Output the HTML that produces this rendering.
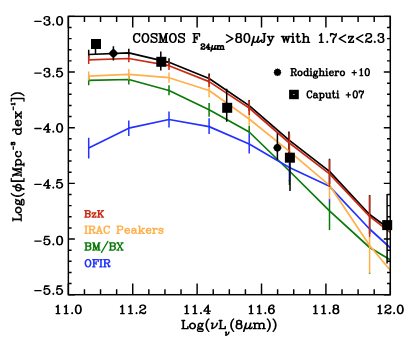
<!DOCTYPE html>
<html><head><meta charset="utf-8"><title>plot</title>
<style>html,body{margin:0;padding:0;background:#fff;font-family:"Liberation Sans",sans-serif;}svg{display:block}</style>
</head><body>
<svg width="416" height="345" viewBox="0 0 416 345">
<rect width="416" height="345" fill="#fff"/>
<defs><clipPath id="c"><rect x="68.35" y="16.35" width="321.95" height="278.35"/></clipPath></defs>
<path d="M288.95 131.5V153" fill="none" stroke="#000" stroke-width="1.50"/>
<g clip-path="url(#c)" fill="none" stroke-width="1.70" stroke-linejoin="round" stroke-linecap="butt">
<polyline points="88.7,54.5 128.8,52.8 169.0,62.3 209.1,78.5 249.2,105.6 289.4,140.3 329.5,171.4 369.6,214.5 409.8,243.9" stroke="#000000"/>
<path d="M88.7 49.8V58.6M128.8 48.8V56.6M169.0 58.3V66.3M209.1 73.5V83.5M249.2 100.0V111.2M329.5 158.8V184.0M369.6 195.0V234.0" stroke="#000000" stroke-width="1.50"/>
<polyline points="88.7,80.4 128.8,79.5 169.0,90.5 209.1,109.7 249.2,132.0 289.4,171.0 329.5,210.8 369.6,247.5 409.8,271.6" stroke="#0a7a0a"/>
<path d="M88.7 75.6V85.2M128.8 76.0V84.6M169.0 85.2V95.3M209.1 102.9V116.8M249.2 126.0V133.4M289.4 180.0V185.1M329.5 202.0V230.0M369.6 272.6V273.8" stroke="#0a7a0a" stroke-width="1.50"/>
<polyline points="88.7,148.1 128.8,128.2 169.0,119.5 209.1,126.6 249.2,144.0 289.4,167.5 329.5,186.3 369.6,229.0 409.8,265.6" stroke="#2233ff"/>
<path d="M88.7 137.7V158.4M128.8 120.4V136.0M169.0 111.5V127.6M209.1 118.2V134.0M249.2 133.4V153.6M289.4 163.0V181.2M329.5 198.5V202.3" stroke="#2233ff" stroke-width="1.50"/>
<polyline points="88.7,76.1 128.8,74.4 169.0,77.7 209.1,90.5 249.2,119.0 289.4,151.3 329.5,185.3 369.6,245.5 409.8,293.7" stroke="#ffb04a"/>
<path d="M88.7 71.4V80.6M128.8 69.0V79.6M169.0 72.6V82.7M209.1 83.5V97.5M249.2 111.3V125.9M329.5 186.0V199.3M369.6 236.0V273.2" stroke="#ffb04a" stroke-width="1.50"/>
<polyline points="88.7,59.8 128.8,58.5 169.0,65.7 209.1,81.6 249.2,108.0 289.4,143.0 329.5,173.8 369.6,216.3 409.8,247.6" stroke="#c82a14"/>
<path d="M88.7 55.6V64.0M128.8 54.7V62.3M169.0 61.7V70.1M209.1 76.1V87.0M249.2 100.5V115.0M289.4 133.8V154.0M329.5 159.4V187.0M369.6 195.5V236.8" stroke="#c82a14" stroke-width="1.50"/>
</g>
<path d="M95.5 44.0V54.3M160.8 51.6V70.6M226.7 88.8V121.7M290.0 155.0V191.1M387.1 193.9V263.5M113.4 46.2V60.6M277.4 133.2V159.8" fill="none" stroke="#000" stroke-width="1.50"/>
<g fill="#000">
<rect x="91.0" y="39.0" width="10" height="10"/>
<rect x="156.3" y="56.8" width="10" height="10"/>
<rect x="222.2" y="102.8" width="10" height="10"/>
<rect x="284.9" y="152.7" width="10" height="10"/>
<rect x="382.2" y="220.1" width="10" height="10"/>
<polygon points="108.50,53.40 110.80,50.80 113.40,48.50 116.00,50.80 118.30,53.40 116.00,56.00 113.40,58.30 110.80,56.00"/>
<polygon points="273.20,147.70 274.60,144.90 277.40,143.50 280.20,144.90 281.60,147.70 280.20,150.50 277.40,151.90 274.60,150.50"/>
</g>
<g stroke="#000" stroke-width="1.45" fill="none" stroke-linecap="butt">
<path d="M68.35 294.70v-11.10M68.35 16.35v11.10M84.45 294.70v-5.55M84.45 16.35v5.55M100.54 294.70v-5.55M100.54 16.35v5.55M116.64 294.70v-5.55M116.64 16.35v5.55M132.74 294.70v-11.10M132.74 16.35v11.10M148.84 294.70v-5.55M148.84 16.35v5.55M164.94 294.70v-5.55M164.94 16.35v5.55M181.03 294.70v-5.55M181.03 16.35v5.55M197.13 294.70v-11.10M197.13 16.35v11.10M213.23 294.70v-5.55M213.23 16.35v5.55M229.33 294.70v-5.55M229.33 16.35v5.55M245.42 294.70v-5.55M245.42 16.35v5.55M261.52 294.70v-11.10M261.52 16.35v11.10M277.62 294.70v-5.55M277.62 16.35v5.55M293.71 294.70v-5.55M293.71 16.35v5.55M309.81 294.70v-5.55M309.81 16.35v5.55M325.91 294.70v-11.10M325.91 16.35v11.10M342.01 294.70v-5.55M342.01 16.35v5.55M358.11 294.70v-5.55M358.11 16.35v5.55M374.20 294.70v-5.55M374.20 16.35v5.55M390.30 294.70v-11.10M390.30 16.35v11.10M68.35 16.35h6.50M390.30 16.35h-6.50M68.35 27.48h3.25M390.30 27.48h-3.25M68.35 38.62h3.25M390.30 38.62h-3.25M68.35 49.75h3.25M390.30 49.75h-3.25M68.35 60.89h3.25M390.30 60.89h-3.25M68.35 72.02h6.50M390.30 72.02h-6.50M68.35 83.15h3.25M390.30 83.15h-3.25M68.35 94.29h3.25M390.30 94.29h-3.25M68.35 105.42h3.25M390.30 105.42h-3.25M68.35 116.56h3.25M390.30 116.56h-3.25M68.35 127.69h6.50M390.30 127.69h-6.50M68.35 138.82h3.25M390.30 138.82h-3.25M68.35 149.96h3.25M390.30 149.96h-3.25M68.35 161.09h3.25M390.30 161.09h-3.25M68.35 172.23h3.25M390.30 172.23h-3.25M68.35 183.36h6.50M390.30 183.36h-6.50M68.35 194.49h3.25M390.30 194.49h-3.25M68.35 205.63h3.25M390.30 205.63h-3.25M68.35 216.76h3.25M390.30 216.76h-3.25M68.35 227.90h3.25M390.30 227.90h-3.25M68.35 239.03h6.50M390.30 239.03h-6.50M68.35 250.16h3.25M390.30 250.16h-3.25M68.35 261.30h3.25M390.30 261.30h-3.25M68.35 272.43h3.25M390.30 272.43h-3.25M68.35 283.57h3.25M390.30 283.57h-3.25M68.35 294.70h6.50M390.30 294.70h-6.50"/>
<rect x="68.35" y="16.35" width="321.95" height="278.35"/>
</g>
<path d="M56.16 306.80 L56.98 306.40 L58.21 305.20 L58.21 313.60 M57.80 305.60 L57.80 313.60 M56.16 313.60 L59.85 313.60 M64.36 306.80 L65.18 306.40 L66.41 305.20 L66.41 313.60 M66.00 305.60 L66.00 313.60 M64.36 313.60 L68.05 313.60 M72.15 312.80 L71.74 313.20 L72.15 313.60 L72.56 313.20 L72.15 312.80 M77.89 305.20 L76.66 305.60 L75.84 306.80 L75.43 308.80 L75.43 310.00 L75.84 312.00 L76.66 313.20 L77.89 313.60 L78.71 313.60 L79.94 313.20 L80.76 312.00 L81.17 310.00 L81.17 308.80 L80.76 306.80 L79.94 305.60 L78.71 305.20 L77.89 305.20 M77.89 305.20 L77.07 305.60 L76.66 306.00 L76.25 306.80 L75.84 308.80 L75.84 310.00 L76.25 312.00 L76.66 312.80 L77.07 313.20 L77.89 313.60 M78.71 313.60 L79.53 313.20 L79.94 312.80 L80.35 312.00 L80.76 310.00 L80.76 308.80 L80.35 306.80 L79.94 306.00 L79.53 305.60 L78.71 305.20" fill="none" stroke="#000" stroke-width="1.30" stroke-linecap="round" stroke-linejoin="round"/>
<path d="M120.55 306.80 L121.37 306.40 L122.60 305.20 L122.60 313.60 M122.19 305.60 L122.19 313.60 M120.55 313.60 L124.24 313.60 M128.75 306.80 L129.57 306.40 L130.80 305.20 L130.80 313.60 M130.39 305.60 L130.39 313.60 M128.75 313.60 L132.44 313.60 M136.54 312.80 L136.13 313.20 L136.54 313.60 L136.95 313.20 L136.54 312.80 M140.23 306.80 L140.64 307.20 L140.23 307.60 L139.82 307.20 L139.82 306.80 L140.23 306.00 L140.64 305.60 L141.87 305.20 L143.51 305.20 L144.74 305.60 L145.15 306.00 L145.56 306.80 L145.56 307.60 L145.15 308.40 L143.92 309.20 L141.87 310.00 L141.05 310.40 L140.23 311.20 L139.82 312.40 L139.82 313.60 M143.51 305.20 L144.33 305.60 L144.74 306.00 L145.15 306.80 L145.15 307.60 L144.74 308.40 L143.51 309.20 L141.87 310.00 M139.82 312.80 L140.23 312.40 L141.05 312.40 L143.10 313.20 L144.33 313.20 L145.15 312.80 L145.56 312.40 M141.05 312.40 L143.10 313.60 L144.74 313.60 L145.15 313.20 L145.56 312.40 L145.56 311.60" fill="none" stroke="#000" stroke-width="1.30" stroke-linecap="round" stroke-linejoin="round"/>
<path d="M184.94 306.80 L185.76 306.40 L186.99 305.20 L186.99 313.60 M186.58 305.60 L186.58 313.60 M184.94 313.60 L188.63 313.60 M193.14 306.80 L193.96 306.40 L195.19 305.20 L195.19 313.60 M194.78 305.60 L194.78 313.60 M193.14 313.60 L196.83 313.60 M200.93 312.80 L200.52 313.20 L200.93 313.60 L201.34 313.20 L200.93 312.80 M207.90 306.00 L207.90 313.60 M208.31 305.20 L208.31 313.60 M208.31 305.20 L203.80 311.20 L210.36 311.20 M206.67 313.60 L209.54 313.60" fill="none" stroke="#000" stroke-width="1.30" stroke-linecap="round" stroke-linejoin="round"/>
<path d="M249.33 306.80 L250.15 306.40 L251.38 305.20 L251.38 313.60 M250.97 305.60 L250.97 313.60 M249.33 313.60 L253.02 313.60 M257.53 306.80 L258.35 306.40 L259.58 305.20 L259.58 313.60 M259.17 305.60 L259.17 313.60 M257.53 313.60 L261.22 313.60 M265.32 312.80 L264.91 313.20 L265.32 313.60 L265.73 313.20 L265.32 312.80 M273.52 306.40 L273.11 306.80 L273.52 307.20 L273.93 306.80 L273.93 306.40 L273.52 305.60 L272.70 305.20 L271.47 305.20 L270.24 305.60 L269.42 306.40 L269.01 307.20 L268.60 308.80 L268.60 311.20 L269.01 312.40 L269.83 313.20 L271.06 313.60 L271.88 313.60 L273.11 313.20 L273.93 312.40 L274.34 311.20 L274.34 310.80 L273.93 309.60 L273.11 308.80 L271.88 308.40 L271.47 308.40 L270.24 308.80 L269.42 309.60 L269.01 310.80 M271.47 305.20 L270.65 305.60 L269.83 306.40 L269.42 307.20 L269.01 308.80 L269.01 311.20 L269.42 312.40 L270.24 313.20 L271.06 313.60 M271.88 313.60 L272.70 313.20 L273.52 312.40 L273.93 311.20 L273.93 310.80 L273.52 309.60 L272.70 308.80 L271.88 308.40" fill="none" stroke="#000" stroke-width="1.30" stroke-linecap="round" stroke-linejoin="round"/>
<path d="M313.72 306.80 L314.54 306.40 L315.77 305.20 L315.77 313.60 M315.36 305.60 L315.36 313.60 M313.72 313.60 L317.41 313.60 M321.92 306.80 L322.74 306.40 L323.97 305.20 L323.97 313.60 M323.56 305.60 L323.56 313.60 M321.92 313.60 L325.61 313.60 M329.71 312.80 L329.30 313.20 L329.71 313.60 L330.12 313.20 L329.71 312.80 M335.04 305.20 L333.81 305.60 L333.40 306.40 L333.40 307.60 L333.81 308.40 L335.04 308.80 L336.68 308.80 L337.91 308.40 L338.32 307.60 L338.32 306.40 L337.91 305.60 L336.68 305.20 L335.04 305.20 M335.04 305.20 L334.22 305.60 L333.81 306.40 L333.81 307.60 L334.22 308.40 L335.04 308.80 M336.68 308.80 L337.50 308.40 L337.91 307.60 L337.91 306.40 L337.50 305.60 L336.68 305.20 M335.04 308.80 L333.81 309.20 L333.40 309.60 L332.99 310.40 L332.99 312.00 L333.40 312.80 L333.81 313.20 L335.04 313.60 L336.68 313.60 L337.91 313.20 L338.32 312.80 L338.73 312.00 L338.73 310.40 L338.32 309.60 L337.91 309.20 L336.68 308.80 M335.04 308.80 L334.22 309.20 L333.81 309.60 L333.40 310.40 L333.40 312.00 L333.81 312.80 L334.22 313.20 L335.04 313.60 M336.68 313.60 L337.50 313.20 L337.91 312.80 L338.32 312.00 L338.32 310.40 L337.91 309.60 L337.50 309.20 L336.68 308.80" fill="none" stroke="#000" stroke-width="1.30" stroke-linecap="round" stroke-linejoin="round"/>
<path d="M378.11 306.80 L378.93 306.40 L380.16 305.20 L380.16 313.60 M379.75 305.60 L379.75 313.60 M378.11 313.60 L381.80 313.60 M385.49 306.80 L385.90 307.20 L385.49 307.60 L385.08 307.20 L385.08 306.80 L385.49 306.00 L385.90 305.60 L387.13 305.20 L388.77 305.20 L390.00 305.60 L390.41 306.00 L390.82 306.80 L390.82 307.60 L390.41 308.40 L389.18 309.20 L387.13 310.00 L386.31 310.40 L385.49 311.20 L385.08 312.40 L385.08 313.60 M388.77 305.20 L389.59 305.60 L390.00 306.00 L390.41 306.80 L390.41 307.60 L390.00 308.40 L388.77 309.20 L387.13 310.00 M385.08 312.80 L385.49 312.40 L386.31 312.40 L388.36 313.20 L389.59 313.20 L390.41 312.80 L390.82 312.40 M386.31 312.40 L388.36 313.60 L390.00 313.60 L390.41 313.20 L390.82 312.40 L390.82 311.60 M394.10 312.80 L393.69 313.20 L394.10 313.60 L394.51 313.20 L394.10 312.80 M399.84 305.20 L398.61 305.60 L397.79 306.80 L397.38 308.80 L397.38 310.00 L397.79 312.00 L398.61 313.20 L399.84 313.60 L400.66 313.60 L401.89 313.20 L402.71 312.00 L403.12 310.00 L403.12 308.80 L402.71 306.80 L401.89 305.60 L400.66 305.20 L399.84 305.20 M399.84 305.20 L399.02 305.60 L398.61 306.00 L398.20 306.80 L397.79 308.80 L397.79 310.00 L398.20 312.00 L398.61 312.80 L399.02 313.20 L399.84 313.60 M400.66 313.60 L401.48 313.20 L401.89 312.80 L402.30 312.00 L402.71 310.00 L402.71 308.80 L402.30 306.80 L401.89 306.00 L401.48 305.60 L400.66 305.20" fill="none" stroke="#000" stroke-width="1.30" stroke-linecap="round" stroke-linejoin="round"/>
<path d="M34.82 21.40 L41.12 21.40 M44.48 18.20 L44.90 18.60 L44.48 19.00 L44.06 18.60 L44.06 18.20 L44.48 17.40 L44.90 17.00 L46.16 16.60 L47.84 16.60 L49.10 17.00 L49.52 17.80 L49.52 19.00 L49.10 19.80 L47.84 20.20 L46.58 20.20 M47.84 16.60 L48.68 17.00 L49.10 17.80 L49.10 19.00 L48.68 19.80 L47.84 20.20 M47.84 20.20 L48.68 20.60 L49.52 21.40 L49.94 22.20 L49.94 23.40 L49.52 24.20 L49.10 24.60 L47.84 25.00 L46.16 25.00 L44.90 24.60 L44.48 24.20 L44.06 23.40 L44.06 23.00 L44.48 22.60 L44.90 23.00 L44.48 23.40 M49.10 21.00 L49.52 22.20 L49.52 23.40 L49.10 24.20 L48.68 24.60 L47.84 25.00 M53.30 24.20 L52.88 24.60 L53.30 25.00 L53.72 24.60 L53.30 24.20 M59.18 16.60 L57.92 17.00 L57.08 18.20 L56.66 20.20 L56.66 21.40 L57.08 23.40 L57.92 24.60 L59.18 25.00 L60.02 25.00 L61.28 24.60 L62.12 23.40 L62.54 21.40 L62.54 20.20 L62.12 18.20 L61.28 17.00 L60.02 16.60 L59.18 16.60 M59.18 16.60 L58.34 17.00 L57.92 17.40 L57.50 18.20 L57.08 20.20 L57.08 21.40 L57.50 23.40 L57.92 24.20 L58.34 24.60 L59.18 25.00 M60.02 25.00 L60.86 24.60 L61.28 24.20 L61.70 23.40 L62.12 21.40 L62.12 20.20 L61.70 18.20 L61.28 17.40 L60.86 17.00 L60.02 16.60" fill="none" stroke="#000" stroke-width="1.30" stroke-linecap="round" stroke-linejoin="round"/>
<path d="M34.82 73.20 L41.12 73.20 M44.48 70.00 L44.90 70.40 L44.48 70.80 L44.06 70.40 L44.06 70.00 L44.48 69.20 L44.90 68.80 L46.16 68.40 L47.84 68.40 L49.10 68.80 L49.52 69.60 L49.52 70.80 L49.10 71.60 L47.84 72.00 L46.58 72.00 M47.84 68.40 L48.68 68.80 L49.10 69.60 L49.10 70.80 L48.68 71.60 L47.84 72.00 M47.84 72.00 L48.68 72.40 L49.52 73.20 L49.94 74.00 L49.94 75.20 L49.52 76.00 L49.10 76.40 L47.84 76.80 L46.16 76.80 L44.90 76.40 L44.48 76.00 L44.06 75.20 L44.06 74.80 L44.48 74.40 L44.90 74.80 L44.48 75.20 M49.10 72.80 L49.52 74.00 L49.52 75.20 L49.10 76.00 L48.68 76.40 L47.84 76.80 M53.30 76.00 L52.88 76.40 L53.30 76.80 L53.72 76.40 L53.30 76.00 M57.50 68.40 L56.66 72.40 M56.66 72.40 L57.50 71.60 L58.76 71.20 L60.02 71.20 L61.28 71.60 L62.12 72.40 L62.54 73.60 L62.54 74.40 L62.12 75.60 L61.28 76.40 L60.02 76.80 L58.76 76.80 L57.50 76.40 L57.08 76.00 L56.66 75.20 L56.66 74.80 L57.08 74.40 L57.50 74.80 L57.08 75.20 M60.02 71.20 L60.86 71.60 L61.70 72.40 L62.12 73.60 L62.12 74.40 L61.70 75.60 L60.86 76.40 L60.02 76.80 M57.50 68.40 L61.70 68.40 M57.50 68.80 L59.60 68.80 L61.70 68.40" fill="none" stroke="#000" stroke-width="1.30" stroke-linecap="round" stroke-linejoin="round"/>
<path d="M34.82 128.50 L41.12 128.50 M47.84 124.50 L47.84 132.10 M48.26 123.70 L48.26 132.10 M48.26 123.70 L43.64 129.70 L50.36 129.70 M46.58 132.10 L49.52 132.10 M53.30 131.30 L52.88 131.70 L53.30 132.10 L53.72 131.70 L53.30 131.30 M59.18 123.70 L57.92 124.10 L57.08 125.30 L56.66 127.30 L56.66 128.50 L57.08 130.50 L57.92 131.70 L59.18 132.10 L60.02 132.10 L61.28 131.70 L62.12 130.50 L62.54 128.50 L62.54 127.30 L62.12 125.30 L61.28 124.10 L60.02 123.70 L59.18 123.70 M59.18 123.70 L58.34 124.10 L57.92 124.50 L57.50 125.30 L57.08 127.30 L57.08 128.50 L57.50 130.50 L57.92 131.30 L58.34 131.70 L59.18 132.10 M60.02 132.10 L60.86 131.70 L61.28 131.30 L61.70 130.50 L62.12 128.50 L62.12 127.30 L61.70 125.30 L61.28 124.50 L60.86 124.10 L60.02 123.70" fill="none" stroke="#000" stroke-width="1.30" stroke-linecap="round" stroke-linejoin="round"/>
<path d="M34.82 184.40 L41.12 184.40 M47.84 180.40 L47.84 188.00 M48.26 179.60 L48.26 188.00 M48.26 179.60 L43.64 185.60 L50.36 185.60 M46.58 188.00 L49.52 188.00 M53.30 187.20 L52.88 187.60 L53.30 188.00 L53.72 187.60 L53.30 187.20 M57.50 179.60 L56.66 183.60 M56.66 183.60 L57.50 182.80 L58.76 182.40 L60.02 182.40 L61.28 182.80 L62.12 183.60 L62.54 184.80 L62.54 185.60 L62.12 186.80 L61.28 187.60 L60.02 188.00 L58.76 188.00 L57.50 187.60 L57.08 187.20 L56.66 186.40 L56.66 186.00 L57.08 185.60 L57.50 186.00 L57.08 186.40 M60.02 182.40 L60.86 182.80 L61.70 183.60 L62.12 184.80 L62.12 185.60 L61.70 186.80 L60.86 187.60 L60.02 188.00 M57.50 179.60 L61.70 179.60 M57.50 180.00 L59.60 180.00 L61.70 179.60" fill="none" stroke="#000" stroke-width="1.30" stroke-linecap="round" stroke-linejoin="round"/>
<path d="M34.82 241.10 L41.12 241.10 M44.90 236.30 L44.06 240.30 M44.06 240.30 L44.90 239.50 L46.16 239.10 L47.42 239.10 L48.68 239.50 L49.52 240.30 L49.94 241.50 L49.94 242.30 L49.52 243.50 L48.68 244.30 L47.42 244.70 L46.16 244.70 L44.90 244.30 L44.48 243.90 L44.06 243.10 L44.06 242.70 L44.48 242.30 L44.90 242.70 L44.48 243.10 M47.42 239.10 L48.26 239.50 L49.10 240.30 L49.52 241.50 L49.52 242.30 L49.10 243.50 L48.26 244.30 L47.42 244.70 M44.90 236.30 L49.10 236.30 M44.90 236.70 L47.00 236.70 L49.10 236.30 M53.30 243.90 L52.88 244.30 L53.30 244.70 L53.72 244.30 L53.30 243.90 M59.18 236.30 L57.92 236.70 L57.08 237.90 L56.66 239.90 L56.66 241.10 L57.08 243.10 L57.92 244.30 L59.18 244.70 L60.02 244.70 L61.28 244.30 L62.12 243.10 L62.54 241.10 L62.54 239.90 L62.12 237.90 L61.28 236.70 L60.02 236.30 L59.18 236.30 M59.18 236.30 L58.34 236.70 L57.92 237.10 L57.50 237.90 L57.08 239.90 L57.08 241.10 L57.50 243.10 L57.92 243.90 L58.34 244.30 L59.18 244.70 M60.02 244.70 L60.86 244.30 L61.28 243.90 L61.70 243.10 L62.12 241.10 L62.12 239.90 L61.70 237.90 L61.28 237.10 L60.86 236.70 L60.02 236.30" fill="none" stroke="#000" stroke-width="1.30" stroke-linecap="round" stroke-linejoin="round"/>
<path d="M34.82 290.70 L41.12 290.70 M44.90 285.90 L44.06 289.90 M44.06 289.90 L44.90 289.10 L46.16 288.70 L47.42 288.70 L48.68 289.10 L49.52 289.90 L49.94 291.10 L49.94 291.90 L49.52 293.10 L48.68 293.90 L47.42 294.30 L46.16 294.30 L44.90 293.90 L44.48 293.50 L44.06 292.70 L44.06 292.30 L44.48 291.90 L44.90 292.30 L44.48 292.70 M47.42 288.70 L48.26 289.10 L49.10 289.90 L49.52 291.10 L49.52 291.90 L49.10 293.10 L48.26 293.90 L47.42 294.30 M44.90 285.90 L49.10 285.90 M44.90 286.30 L47.00 286.30 L49.10 285.90 M53.30 293.50 L52.88 293.90 L53.30 294.30 L53.72 293.90 L53.30 293.50 M57.50 285.90 L56.66 289.90 M56.66 289.90 L57.50 289.10 L58.76 288.70 L60.02 288.70 L61.28 289.10 L62.12 289.90 L62.54 291.10 L62.54 291.90 L62.12 293.10 L61.28 293.90 L60.02 294.30 L58.76 294.30 L57.50 293.90 L57.08 293.50 L56.66 292.70 L56.66 292.30 L57.08 291.90 L57.50 292.30 L57.08 292.70 M60.02 288.70 L60.86 289.10 L61.70 289.90 L62.12 291.10 L62.12 291.90 L61.70 293.10 L60.86 293.90 L60.02 294.30 M57.50 285.90 L61.70 285.90 M57.50 286.30 L59.60 286.30 L61.70 285.90" fill="none" stroke="#000" stroke-width="1.30" stroke-linecap="round" stroke-linejoin="round"/>
<path d="M183.07 320.51 L183.07 328.70 M183.48 320.51 L183.48 328.70 M181.84 320.51 L184.71 320.51 M181.84 328.70 L187.99 328.70 L187.99 326.36 L187.58 328.70 M192.09 323.24 L190.86 323.63 L190.04 324.41 L189.63 325.58 L189.63 326.36 L190.04 327.53 L190.86 328.31 L192.09 328.70 L192.91 328.70 L194.14 328.31 L194.96 327.53 L195.37 326.36 L195.37 325.58 L194.96 324.41 L194.14 323.63 L192.91 323.24 L192.09 323.24 M192.09 323.24 L191.27 323.63 L190.45 324.41 L190.04 325.58 L190.04 326.36 L190.45 327.53 L191.27 328.31 L192.09 328.70 M192.91 328.70 L193.73 328.31 L194.55 327.53 L194.96 326.36 L194.96 325.58 L194.55 324.41 L193.73 323.63 L192.91 323.24 M199.88 323.24 L199.06 323.63 L198.65 324.02 L198.24 324.80 L198.24 325.58 L198.65 326.36 L199.06 326.75 L199.88 327.14 L200.70 327.14 L201.52 326.75 L201.93 326.36 L202.34 325.58 L202.34 324.80 L201.93 324.02 L201.52 323.63 L200.70 323.24 L199.88 323.24 M199.06 323.63 L198.65 324.41 L198.65 325.97 L199.06 326.75 M201.52 326.75 L201.93 325.97 L201.93 324.41 L201.52 323.63 M201.93 324.02 L202.34 323.63 L203.16 323.24 L203.16 323.63 L202.34 323.63 M198.65 326.36 L198.24 326.75 L197.83 327.53 L197.83 327.92 L198.24 328.70 L199.47 329.09 L201.52 329.09 L202.75 329.48 L203.16 329.87 M197.83 327.92 L198.24 328.31 L199.47 328.70 L201.52 328.70 L202.75 329.09 L203.16 329.87 L203.16 330.26 L202.75 331.04 L201.52 331.43 L199.06 331.43 L197.83 331.04 L197.42 330.26 L197.42 329.87 L197.83 329.09 L199.06 328.70 M208.90 318.95 L208.08 319.73 L207.26 320.90 L206.44 322.46 L206.03 324.41 L206.03 325.97 L206.44 327.92 L207.26 329.48 L208.08 330.65 L208.90 331.43 M208.08 319.73 L207.26 321.29 L206.85 322.46 L206.44 324.41 L206.44 325.97 L206.85 327.92 L207.26 329.09 L208.08 330.65 M212.59 323.24 L211.77 328.70 M213.00 323.24 L212.59 325.58 L212.18 327.53 L211.77 328.70 M217.10 323.24 L216.69 324.80 L215.87 326.36 M217.51 323.24 L217.10 324.41 L216.69 325.19 L215.87 326.36 L215.05 327.14 L213.82 327.92 L213.00 328.31 L211.77 328.70 M211.36 323.24 L213.00 323.24 M220.38 320.51 L220.38 328.70 M220.79 320.51 L220.79 328.70 M219.15 320.51 L222.02 320.51 M219.15 328.70 L225.30 328.70 L225.30 326.36 L224.89 328.70 M226.20 332.16 L225.72 335.33 M226.43 332.16 L226.20 333.52 L225.96 334.65 L225.72 335.33 M228.81 332.16 L228.57 333.07 L228.10 333.97 M229.05 332.16 L228.81 332.84 L228.57 333.29 L228.10 333.97 L227.62 334.43 L226.91 334.88 L226.43 335.10 L225.72 335.33 M225.48 332.16 L226.43 332.16 M233.71 318.95 L232.89 319.73 L232.07 320.90 L231.25 322.46 L230.84 324.41 L230.84 325.97 L231.25 327.92 L232.07 329.48 L232.89 330.65 L233.71 331.43 M232.89 319.73 L232.07 321.29 L231.66 322.46 L231.25 324.41 L231.25 325.97 L231.66 327.92 L232.07 329.09 L232.89 330.65 M238.22 320.51 L236.99 320.90 L236.58 321.68 L236.58 322.85 L236.99 323.63 L238.22 324.02 L239.86 324.02 L241.09 323.63 L241.50 322.85 L241.50 321.68 L241.09 320.90 L239.86 320.51 L238.22 320.51 M238.22 320.51 L237.40 320.90 L236.99 321.68 L236.99 322.85 L237.40 323.63 L238.22 324.02 M239.86 324.02 L240.68 323.63 L241.09 322.85 L241.09 321.68 L240.68 320.90 L239.86 320.51 M238.22 324.02 L236.99 324.41 L236.58 324.80 L236.17 325.58 L236.17 327.14 L236.58 327.92 L236.99 328.31 L238.22 328.70 L239.86 328.70 L241.09 328.31 L241.50 327.92 L241.91 327.14 L241.91 325.58 L241.50 324.80 L241.09 324.41 L239.86 324.02 M238.22 324.02 L237.40 324.41 L236.99 324.80 L236.58 325.58 L236.58 327.14 L236.99 327.92 L237.40 328.31 L238.22 328.70 M239.86 328.70 L240.68 328.31 L241.09 327.92 L241.50 327.14 L241.50 325.58 L241.09 324.80 L240.68 324.41 L239.86 324.02 M246.01 323.24 L243.55 331.43 M246.42 323.24 L243.96 331.43 M246.01 324.41 L245.60 326.75 L245.60 327.92 L246.42 328.70 L247.24 328.70 L248.06 328.31 L248.88 327.53 L249.70 326.36 M250.52 323.24 L249.29 327.53 L249.29 328.31 L249.70 328.70 L250.93 328.70 L251.75 327.92 L252.16 327.14 M250.93 323.24 L249.70 327.53 L249.70 328.31 L250.11 328.70 M254.62 323.24 L254.62 328.70 M255.03 323.24 L255.03 328.70 M255.03 324.41 L255.85 323.63 L257.08 323.24 L257.90 323.24 L259.13 323.63 L259.54 324.41 L259.54 328.70 M257.90 323.24 L258.72 323.63 L259.13 324.41 L259.13 328.70 M259.54 324.41 L260.36 323.63 L261.59 323.24 L262.41 323.24 L263.64 323.63 L264.05 324.41 L264.05 328.70 M262.41 323.24 L263.23 323.63 L263.64 324.41 L263.64 328.70 M253.39 323.24 L255.03 323.24 M253.39 328.70 L256.26 328.70 M257.90 328.70 L260.77 328.70 M262.41 328.70 L265.28 328.70 M267.33 318.95 L268.15 319.73 L268.97 320.90 L269.79 322.46 L270.20 324.41 L270.20 325.97 L269.79 327.92 L268.97 329.48 L268.15 330.65 L267.33 331.43 M268.15 319.73 L268.97 321.29 L269.38 322.46 L269.79 324.41 L269.79 325.97 L269.38 327.92 L268.97 329.09 L268.15 330.65 M273.07 318.95 L273.89 319.73 L274.71 320.90 L275.53 322.46 L275.94 324.41 L275.94 325.97 L275.53 327.92 L274.71 329.48 L273.89 330.65 L273.07 331.43 M273.89 319.73 L274.71 321.29 L275.12 322.46 L275.53 324.41 L275.53 325.97 L275.12 327.92 L274.71 329.09 L273.89 330.65" fill="none" stroke="#000" stroke-width="1.30" stroke-linecap="round" stroke-linejoin="round"/>
<path d="M-63.17 -8.34 L-63.17 0.00 M-62.75 -8.34 L-62.75 0.00 M-64.42 -8.34 L-61.51 -8.34 M-64.42 0.00 L-58.18 0.00 L-58.18 -2.38 L-58.59 0.00 M-54.02 -5.56 L-55.27 -5.16 L-56.10 -4.37 L-56.51 -3.18 L-56.51 -2.38 L-56.10 -1.19 L-55.27 -0.40 L-54.02 0.00 L-53.19 0.00 L-51.94 -0.40 L-51.11 -1.19 L-50.69 -2.38 L-50.69 -3.18 L-51.11 -4.37 L-51.94 -5.16 L-53.19 -5.56 L-54.02 -5.56 M-54.02 -5.56 L-54.85 -5.16 L-55.68 -4.37 L-56.10 -3.18 L-56.10 -2.38 L-55.68 -1.19 L-54.85 -0.40 L-54.02 0.00 M-53.19 0.00 L-52.35 -0.40 L-51.52 -1.19 L-51.11 -2.38 L-51.11 -3.18 L-51.52 -4.37 L-52.35 -5.16 L-53.19 -5.56 M-46.11 -5.56 L-46.95 -5.16 L-47.36 -4.76 L-47.78 -3.97 L-47.78 -3.18 L-47.36 -2.38 L-46.95 -1.99 L-46.11 -1.59 L-45.28 -1.59 L-44.45 -1.99 L-44.03 -2.38 L-43.62 -3.18 L-43.62 -3.97 L-44.03 -4.76 L-44.45 -5.16 L-45.28 -5.56 L-46.11 -5.56 M-46.95 -5.16 L-47.36 -4.37 L-47.36 -2.78 L-46.95 -1.99 M-44.45 -1.99 L-44.03 -2.78 L-44.03 -4.37 L-44.45 -5.16 M-44.03 -4.76 L-43.62 -5.16 L-42.79 -5.56 L-42.79 -5.16 L-43.62 -5.16 M-47.36 -2.38 L-47.78 -1.99 L-48.19 -1.19 L-48.19 -0.79 L-47.78 0.00 L-46.53 0.40 L-44.45 0.40 L-43.20 0.79 L-42.79 1.19 M-48.19 -0.79 L-47.78 -0.40 L-46.53 0.00 L-44.45 0.00 L-43.20 0.40 L-42.79 1.19 L-42.79 1.59 L-43.20 2.38 L-44.45 2.78 L-46.95 2.78 L-48.19 2.38 L-48.61 1.59 L-48.61 1.19 L-48.19 0.40 L-46.95 0.00 M-36.96 -9.93 L-37.79 -9.13 L-38.63 -7.94 L-39.46 -6.35 L-39.87 -4.37 L-39.87 -2.78 L-39.46 -0.79 L-38.63 0.79 L-37.79 1.99 L-36.96 2.78 M-37.79 -9.13 L-38.63 -7.54 L-39.04 -6.35 L-39.46 -4.37 L-39.46 -2.78 L-39.04 -0.79 L-38.63 0.40 L-37.79 1.99 M-29.89 -8.34 L-32.39 2.78 M-29.47 -8.34 L-32.80 2.78 M-31.55 -5.56 L-33.22 -5.16 L-34.05 -4.37 L-34.47 -3.18 L-34.47 -1.99 L-34.05 -1.19 L-33.22 -0.40 L-31.97 0.00 L-30.72 0.00 L-29.06 -0.40 L-28.23 -1.19 L-27.81 -2.38 L-27.81 -3.57 L-28.23 -4.37 L-29.06 -5.16 L-30.31 -5.56 L-31.55 -5.56 M-31.55 -5.56 L-32.80 -5.16 L-33.63 -4.37 L-34.05 -3.18 L-34.05 -1.99 L-33.63 -1.19 L-32.80 -0.40 L-31.97 0.00 M-30.72 0.00 L-29.47 -0.40 L-28.64 -1.19 L-28.23 -2.38 L-28.23 -3.57 L-28.64 -4.37 L-29.47 -5.16 L-30.31 -5.56 M-24.90 -9.93 L-24.90 2.78 M-24.48 -9.93 L-24.48 2.78 M-24.90 -9.93 L-21.99 -9.93 M-24.90 2.78 L-21.99 2.78 M-18.66 -8.34 L-18.66 0.00 M-18.24 -8.34 L-15.75 -1.19 M-18.66 -8.34 L-15.75 0.00 M-12.83 -8.34 L-15.75 0.00 M-12.83 -8.34 L-12.83 0.00 M-12.42 -8.34 L-12.42 0.00 M-19.91 -8.34 L-18.24 -8.34 M-12.83 -8.34 L-11.17 -8.34 M-19.91 0.00 L-17.41 0.00 M-14.08 0.00 L-11.17 0.00 M-8.26 -5.56 L-8.26 2.78 M-7.84 -5.56 L-7.84 2.78 M-7.84 -4.37 L-7.01 -5.16 L-6.18 -5.56 L-5.35 -5.56 L-4.10 -5.16 L-3.27 -4.37 L-2.85 -3.18 L-2.85 -2.38 L-3.27 -1.19 L-4.10 -0.40 L-5.35 0.00 L-6.18 0.00 L-7.01 -0.40 L-7.84 -1.19 M-5.35 -5.56 L-4.51 -5.16 L-3.68 -4.37 L-3.27 -3.18 L-3.27 -2.38 L-3.68 -1.19 L-4.51 -0.40 L-5.35 0.00 M-9.51 -5.56 L-7.84 -5.56 M-9.51 2.78 L-6.59 2.78 M4.64 -4.37 L4.22 -3.97 L4.64 -3.57 L5.05 -3.97 L5.05 -4.37 L4.22 -5.16 L3.39 -5.56 L2.14 -5.56 L0.89 -5.16 L0.06 -4.37 L-0.35 -3.18 L-0.35 -2.38 L0.06 -1.19 L0.89 -0.40 L2.14 0.00 L2.97 0.00 L4.22 -0.40 L5.05 -1.19 M2.14 -5.56 L1.31 -5.16 L0.48 -4.37 L0.06 -3.18 L0.06 -2.38 L0.48 -1.19 L1.31 -0.40 L2.14 0.00 M7.19 -7.92 L9.94 -7.92 M11.82 -9.32 L12.00 -9.15 L11.82 -8.97 L11.64 -9.15 L11.64 -9.32 L11.82 -9.67 L12.00 -9.85 L12.55 -10.02 L13.28 -10.02 L13.83 -9.85 L14.02 -9.50 L14.02 -8.97 L13.83 -8.62 L13.28 -8.45 L12.73 -8.45 M13.28 -10.02 L13.65 -9.85 L13.83 -9.50 L13.83 -8.97 L13.65 -8.62 L13.28 -8.45 M13.28 -8.45 L13.65 -8.27 L14.02 -7.92 L14.20 -7.57 L14.20 -7.05 L14.02 -6.70 L13.83 -6.53 L13.28 -6.35 L12.55 -6.35 L12.00 -6.53 L11.82 -6.70 L11.64 -7.05 L11.64 -7.23 L11.82 -7.40 L12.00 -7.23 L11.82 -7.05 M13.83 -8.10 L14.02 -7.57 L14.02 -7.05 L13.83 -6.70 L13.65 -6.53 L13.28 -6.35 M27.02 -8.34 L27.02 0.00 M27.44 -8.34 L27.44 0.00 M27.02 -4.37 L26.19 -5.16 L25.36 -5.56 L24.52 -5.56 L23.28 -5.16 L22.44 -4.37 L22.03 -3.18 L22.03 -2.38 L22.44 -1.19 L23.28 -0.40 L24.52 0.00 L25.36 0.00 L26.19 -0.40 L27.02 -1.19 M24.52 -5.56 L23.69 -5.16 L22.86 -4.37 L22.44 -3.18 L22.44 -2.38 L22.86 -1.19 L23.69 -0.40 L24.52 0.00 M25.77 -8.34 L27.44 -8.34 M27.02 0.00 L28.68 0.00 M31.18 -3.18 L36.17 -3.18 L36.17 -3.97 L35.76 -4.76 L35.34 -5.16 L34.51 -5.56 L33.26 -5.56 L32.01 -5.16 L31.18 -4.37 L30.76 -3.18 L30.76 -2.38 L31.18 -1.19 L32.01 -0.40 L33.26 0.00 L34.09 0.00 L35.34 -0.40 L36.17 -1.19 M35.76 -3.18 L35.76 -4.37 L35.34 -5.16 M33.26 -5.56 L32.43 -5.16 L31.60 -4.37 L31.18 -3.18 L31.18 -2.38 L31.60 -1.19 L32.43 -0.40 L33.26 0.00 M39.08 -5.56 L43.66 0.00 M39.50 -5.56 L44.08 0.00 M44.08 -5.56 L39.08 0.00 M38.25 -5.56 L40.75 -5.56 M42.41 -5.56 L44.91 -5.56 M38.25 0.00 L40.75 0.00 M42.41 0.00 L44.91 0.00 M46.75 -7.92 L49.50 -7.92 M51.75 -9.32 L52.11 -9.50 L52.66 -10.02 L52.66 -6.35 M52.48 -9.85 L52.48 -6.35 M51.75 -6.35 L53.39 -6.35 M57.78 -9.93 L57.78 2.78 M58.20 -9.93 L58.20 2.78 M55.29 -9.93 L58.20 -9.93 M55.29 2.78 L58.20 2.78 M60.82 -9.93 L61.65 -9.13 L62.48 -7.94 L63.32 -6.35 L63.73 -4.37 L63.73 -2.78 L63.32 -0.79 L62.48 0.79 L61.65 1.99 L60.82 2.78 M61.65 -9.13 L62.48 -7.54 L62.90 -6.35 L63.32 -4.37 L63.32 -2.78 L62.90 -0.79 L62.48 0.40 L61.65 1.99" fill="none" stroke="#000" stroke-width="1.28" stroke-linecap="round" stroke-linejoin="round" transform="translate(21.20 156.50) rotate(-90)"/>
<path d="M139.27 34.84 L139.68 36.10 L139.68 33.58 L139.27 34.84 L138.45 34.00 L137.22 33.58 L136.40 33.58 L135.17 34.00 L134.35 34.84 L133.94 35.68 L133.53 36.94 L133.53 39.04 L133.94 40.30 L134.35 41.14 L135.17 41.98 L136.40 42.40 L137.22 42.40 L138.45 41.98 L139.27 41.14 L139.68 40.30 M136.40 33.58 L135.58 34.00 L134.76 34.84 L134.35 35.68 L133.94 36.94 L133.94 39.04 L134.35 40.30 L134.76 41.14 L135.58 41.98 L136.40 42.40 M145.01 33.58 L143.78 34.00 L142.96 34.84 L142.55 35.68 L142.14 37.36 L142.14 38.62 L142.55 40.30 L142.96 41.14 L143.78 41.98 L145.01 42.40 L145.83 42.40 L147.06 41.98 L147.88 41.14 L148.29 40.30 L148.70 38.62 L148.70 37.36 L148.29 35.68 L147.88 34.84 L147.06 34.00 L145.83 33.58 L145.01 33.58 M145.01 33.58 L144.19 34.00 L143.37 34.84 L142.96 35.68 L142.55 37.36 L142.55 38.62 L142.96 40.30 L143.37 41.14 L144.19 41.98 L145.01 42.40 M145.83 42.40 L146.65 41.98 L147.47 41.14 L147.88 40.30 L148.29 38.62 L148.29 37.36 L147.88 35.68 L147.47 34.84 L146.65 34.00 L145.83 33.58 M156.49 34.84 L156.90 33.58 L156.90 36.10 L156.49 34.84 L155.67 34.00 L154.44 33.58 L153.21 33.58 L151.98 34.00 L151.16 34.84 L151.16 35.68 L151.57 36.52 L151.98 36.94 L152.80 37.36 L155.26 38.20 L156.08 38.62 L156.90 39.46 M151.16 35.68 L151.98 36.52 L152.80 36.94 L155.26 37.78 L156.08 38.20 L156.49 38.62 L156.90 39.46 L156.90 41.14 L156.08 41.98 L154.85 42.40 L153.62 42.40 L152.39 41.98 L151.57 41.14 L151.16 39.88 L151.16 42.40 L151.57 41.14 M160.18 33.58 L160.18 42.40 M160.59 33.58 L163.05 41.14 M160.18 33.58 L163.05 42.40 M165.92 33.58 L163.05 42.40 M165.92 33.58 L165.92 42.40 M166.33 33.58 L166.33 42.40 M158.95 33.58 L160.59 33.58 M165.92 33.58 L167.56 33.58 M158.95 42.40 L161.41 42.40 M164.69 42.40 L167.56 42.40 M172.48 33.58 L171.25 34.00 L170.43 34.84 L170.02 35.68 L169.61 37.36 L169.61 38.62 L170.02 40.30 L170.43 41.14 L171.25 41.98 L172.48 42.40 L173.30 42.40 L174.53 41.98 L175.35 41.14 L175.76 40.30 L176.17 38.62 L176.17 37.36 L175.76 35.68 L175.35 34.84 L174.53 34.00 L173.30 33.58 L172.48 33.58 M172.48 33.58 L171.66 34.00 L170.84 34.84 L170.43 35.68 L170.02 37.36 L170.02 38.62 L170.43 40.30 L170.84 41.14 L171.66 41.98 L172.48 42.40 M173.30 42.40 L174.12 41.98 L174.94 41.14 L175.35 40.30 L175.76 38.62 L175.76 37.36 L175.35 35.68 L174.94 34.84 L174.12 34.00 L173.30 33.58 M183.96 34.84 L184.37 33.58 L184.37 36.10 L183.96 34.84 L183.14 34.00 L181.91 33.58 L180.68 33.58 L179.45 34.00 L178.63 34.84 L178.63 35.68 L179.04 36.52 L179.45 36.94 L180.27 37.36 L182.73 38.20 L183.55 38.62 L184.37 39.46 M178.63 35.68 L179.45 36.52 L180.27 36.94 L182.73 37.78 L183.55 38.20 L183.96 38.62 L184.37 39.46 L184.37 41.14 L183.55 41.98 L182.32 42.40 L181.09 42.40 L179.86 41.98 L179.04 41.14 L178.63 39.88 L178.63 42.40 L179.04 41.14 M194.21 33.58 L194.21 42.40 M194.62 33.58 L194.62 42.40 M197.08 36.10 L197.08 39.46 M192.98 33.58 L199.54 33.58 L199.54 36.10 L199.13 33.58 M194.62 37.78 L197.08 37.78 M192.98 42.40 L195.85 42.40 M201.38 44.90 L201.63 45.16 L201.38 45.42 L201.12 45.16 L201.12 44.90 L201.38 44.38 L201.63 44.12 L202.39 43.86 L203.41 43.86 L204.17 44.12 L204.43 44.38 L204.68 44.90 L204.68 45.42 L204.43 45.94 L203.66 46.47 L202.39 46.99 L201.89 47.25 L201.38 47.77 L201.12 48.55 L201.12 49.33 M203.41 43.86 L203.92 44.12 L204.17 44.38 L204.43 44.90 L204.43 45.42 L204.17 45.94 L203.41 46.47 L202.39 46.99 M201.12 48.81 L201.38 48.55 L201.89 48.55 L203.16 49.07 L203.92 49.07 L204.43 48.81 L204.68 48.55 M201.89 48.55 L203.16 49.33 L204.17 49.33 L204.43 49.07 L204.68 48.55 L204.68 48.03 M208.49 44.38 L208.49 49.33 M208.75 43.86 L208.75 49.33 M208.75 43.86 L205.95 47.77 L210.02 47.77 M207.73 49.33 L209.51 49.33 M212.31 45.68 L210.78 51.15 M212.56 45.68 L211.04 51.15 M212.31 46.47 L212.05 48.03 L212.05 48.81 L212.56 49.33 L213.07 49.33 L213.58 49.07 L214.09 48.55 L214.60 47.77 M215.10 45.68 L214.34 48.55 L214.34 49.07 L214.60 49.33 L215.36 49.33 L215.87 48.81 L216.12 48.29 M215.36 45.68 L214.60 48.55 L214.60 49.07 L214.85 49.33 M217.65 45.68 L217.65 49.33 M217.90 45.68 L217.90 49.33 M217.90 46.47 L218.41 45.94 L219.17 45.68 L219.68 45.68 L220.44 45.94 L220.70 46.47 L220.70 49.33 M219.68 45.68 L220.19 45.94 L220.44 46.47 L220.44 49.33 M220.70 46.47 L221.20 45.94 L221.97 45.68 L222.48 45.68 L223.24 45.94 L223.49 46.47 L223.49 49.33 M222.48 45.68 L222.98 45.94 L223.24 46.47 L223.24 49.33 M216.88 45.68 L217.90 45.68 M216.88 49.33 L218.66 49.33 M219.68 49.33 L221.46 49.33 M222.48 49.33 L224.25 49.33 M226.40 34.84 L232.96 38.62 L226.40 42.40 M237.88 33.58 L236.65 34.00 L236.24 34.84 L236.24 36.10 L236.65 36.94 L237.88 37.36 L239.52 37.36 L240.75 36.94 L241.16 36.10 L241.16 34.84 L240.75 34.00 L239.52 33.58 L237.88 33.58 M237.88 33.58 L237.06 34.00 L236.65 34.84 L236.65 36.10 L237.06 36.94 L237.88 37.36 M239.52 37.36 L240.34 36.94 L240.75 36.10 L240.75 34.84 L240.34 34.00 L239.52 33.58 M237.88 37.36 L236.65 37.78 L236.24 38.20 L235.83 39.04 L235.83 40.72 L236.24 41.56 L236.65 41.98 L237.88 42.40 L239.52 42.40 L240.75 41.98 L241.16 41.56 L241.57 40.72 L241.57 39.04 L241.16 38.20 L240.75 37.78 L239.52 37.36 M237.88 37.36 L237.06 37.78 L236.65 38.20 L236.24 39.04 L236.24 40.72 L236.65 41.56 L237.06 41.98 L237.88 42.40 M239.52 42.40 L240.34 41.98 L240.75 41.56 L241.16 40.72 L241.16 39.04 L240.75 38.20 L240.34 37.78 L239.52 37.36 M246.49 33.58 L245.26 34.00 L244.44 35.26 L244.03 37.36 L244.03 38.62 L244.44 40.72 L245.26 41.98 L246.49 42.40 L247.31 42.40 L248.54 41.98 L249.36 40.72 L249.77 38.62 L249.77 37.36 L249.36 35.26 L248.54 34.00 L247.31 33.58 L246.49 33.58 M246.49 33.58 L245.67 34.00 L245.26 34.42 L244.85 35.26 L244.44 37.36 L244.44 38.62 L244.85 40.72 L245.26 41.56 L245.67 41.98 L246.49 42.40 M247.31 42.40 L248.13 41.98 L248.54 41.56 L248.95 40.72 L249.36 38.62 L249.36 37.36 L248.95 35.26 L248.54 34.42 L248.13 34.00 L247.31 33.58 M253.87 36.52 L251.41 45.34 M254.28 36.52 L251.82 45.34 M253.87 37.78 L253.46 40.30 L253.46 41.56 L254.28 42.40 L255.10 42.40 L255.92 41.98 L256.74 41.14 L257.56 39.88 M258.38 36.52 L257.15 41.14 L257.15 41.98 L257.56 42.40 L258.79 42.40 L259.61 41.56 L260.02 40.72 M258.79 36.52 L257.56 41.14 L257.56 41.98 L257.97 42.40 M264.53 33.58 L264.53 40.72 L264.12 41.98 L263.30 42.40 L262.48 42.40 L261.66 41.98 L261.25 41.14 L261.25 40.30 L261.66 39.88 L262.07 40.30 L261.66 40.72 M264.12 33.58 L264.12 40.72 L263.71 41.98 L263.30 42.40 M262.89 33.58 L265.76 33.58 M268.22 36.52 L270.68 42.40 M268.63 36.52 L270.68 41.56 M273.14 36.52 L270.68 42.40 L269.86 44.08 L269.04 44.92 L268.22 45.34 L267.81 45.34 L267.40 44.92 L267.81 44.50 L268.22 44.92 M267.40 36.52 L269.86 36.52 M271.50 36.52 L273.96 36.52 M282.57 36.52 L284.21 42.40 M282.98 36.52 L284.21 41.14 M285.85 36.52 L284.21 42.40 M285.85 36.52 L287.49 42.40 M286.26 36.52 L287.49 41.14 M289.13 36.52 L287.49 42.40 M281.34 36.52 L284.21 36.52 M287.90 36.52 L290.36 36.52 M292.82 33.58 L292.41 34.00 L292.82 34.42 L293.23 34.00 L292.82 33.58 M292.82 36.52 L292.82 42.40 M293.23 36.52 L293.23 42.40 M291.59 36.52 L293.23 36.52 M291.59 42.40 L294.46 42.40 M297.33 33.58 L297.33 40.72 L297.74 41.98 L298.56 42.40 L299.38 42.40 L300.20 41.98 L300.61 41.14 M297.74 33.58 L297.74 40.72 L298.15 41.98 L298.56 42.40 M296.10 36.52 L299.38 36.52 M303.48 33.58 L303.48 42.40 M303.89 33.58 L303.89 42.40 M303.89 37.78 L304.71 36.94 L305.94 36.52 L306.76 36.52 L307.99 36.94 L308.40 37.78 L308.40 42.40 M306.76 36.52 L307.58 36.94 L307.99 37.78 L307.99 42.40 M302.25 33.58 L303.89 33.58 M302.25 42.40 L305.12 42.40 M306.76 42.40 L309.63 42.40 M319.47 35.26 L320.29 34.84 L321.52 33.58 L321.52 42.40 M321.11 34.00 L321.11 42.40 M319.47 42.40 L323.16 42.40 M327.26 41.56 L326.85 41.98 L327.26 42.40 L327.67 41.98 L327.26 41.56 M330.54 33.58 L330.54 36.10 M330.54 35.26 L330.95 34.42 L331.77 33.58 L332.59 33.58 L334.64 34.84 L335.46 34.84 L335.87 34.42 L336.28 33.58 M330.95 34.42 L331.77 34.00 L332.59 34.00 L334.64 34.84 M336.28 33.58 L336.28 34.84 L335.87 36.10 L334.23 38.20 L333.82 39.04 L333.41 40.30 L333.41 42.40 M335.87 36.10 L333.82 38.20 L333.41 39.04 L333.00 40.30 L333.00 42.40 M345.71 34.84 L339.15 38.62 L345.71 42.40 M353.09 36.52 L348.58 42.40 M353.50 36.52 L348.99 42.40 M348.99 36.52 L348.58 38.20 L348.58 36.52 L353.50 36.52 M348.58 42.40 L353.50 42.40 L353.50 40.72 L353.09 42.40 M362.93 34.84 L356.37 38.62 L362.93 42.40 M366.21 35.26 L366.62 35.68 L366.21 36.10 L365.80 35.68 L365.80 35.26 L366.21 34.42 L366.62 34.00 L367.85 33.58 L369.49 33.58 L370.72 34.00 L371.13 34.42 L371.54 35.26 L371.54 36.10 L371.13 36.94 L369.90 37.78 L367.85 38.62 L367.03 39.04 L366.21 39.88 L365.80 41.14 L365.80 42.40 M369.49 33.58 L370.31 34.00 L370.72 34.42 L371.13 35.26 L371.13 36.10 L370.72 36.94 L369.49 37.78 L367.85 38.62 M365.80 41.56 L366.21 41.14 L367.03 41.14 L369.08 41.98 L370.31 41.98 L371.13 41.56 L371.54 41.14 M367.03 41.14 L369.08 42.40 L370.72 42.40 L371.13 41.98 L371.54 41.14 L371.54 40.30 M374.82 41.56 L374.41 41.98 L374.82 42.40 L375.23 41.98 L374.82 41.56 M378.51 35.26 L378.92 35.68 L378.51 36.10 L378.10 35.68 L378.10 35.26 L378.51 34.42 L378.92 34.00 L380.15 33.58 L381.79 33.58 L383.02 34.00 L383.43 34.84 L383.43 36.10 L383.02 36.94 L381.79 37.36 L380.56 37.36 M381.79 33.58 L382.61 34.00 L383.02 34.84 L383.02 36.10 L382.61 36.94 L381.79 37.36 M381.79 37.36 L382.61 37.78 L383.43 38.62 L383.84 39.46 L383.84 40.72 L383.43 41.56 L383.02 41.98 L381.79 42.40 L380.15 42.40 L378.92 41.98 L378.51 41.56 L378.10 40.72 L378.10 40.30 L378.51 39.88 L378.92 40.30 L378.51 40.72 M383.02 38.20 L383.43 39.46 L383.43 40.72 L383.02 41.56 L382.61 41.98 L381.79 42.40" fill="none" stroke="#000" stroke-width="1.33" stroke-linecap="round" stroke-linejoin="round"/>
<polygon points="281.55,72.30 280.69,73.15 281.01,74.33 279.83,74.63 279.52,75.81 278.35,75.49 277.50,76.35 276.65,75.49 275.48,75.81 275.17,74.63 273.99,74.33 274.31,73.15 273.45,72.30 274.31,71.45 273.99,70.28 275.17,69.97 275.48,68.79 276.65,69.11 277.50,68.25 278.35,69.11 279.52,68.79 279.83,69.97 281.01,70.27 280.69,71.45" fill="#000"/>
<path d="M291.81 68.67 L291.81 75.70 M292.12 68.67 L292.12 75.70 M290.91 68.67 L294.54 68.67 L295.45 69.00 L295.75 69.34 L296.06 70.00 L296.06 70.67 L295.75 71.34 L295.45 71.68 L294.54 72.02 L292.12 72.02 M294.54 68.67 L295.15 69.00 L295.45 69.34 L295.75 70.00 L295.75 70.67 L295.45 71.34 L295.15 71.68 L294.54 72.02 M290.91 75.70 L293.03 75.70 M293.63 72.02 L294.24 72.35 L294.54 72.69 L295.45 75.03 L295.75 75.37 L296.06 75.37 L296.36 75.03 M294.24 72.35 L294.54 73.02 L295.15 75.37 L295.45 75.70 L296.06 75.70 L296.36 75.03 L296.36 74.70 M299.69 71.01 L298.78 71.34 L298.18 72.02 L297.88 73.02 L297.88 73.69 L298.18 74.70 L298.78 75.37 L299.69 75.70 L300.30 75.70 L301.21 75.37 L301.81 74.70 L302.12 73.69 L302.12 73.02 L301.81 72.02 L301.21 71.34 L300.30 71.01 L299.69 71.01 M299.69 71.01 L299.09 71.34 L298.48 72.02 L298.18 73.02 L298.18 73.69 L298.48 74.70 L299.09 75.37 L299.69 75.70 M300.30 75.70 L300.91 75.37 L301.51 74.70 L301.81 73.69 L301.81 73.02 L301.51 72.02 L300.91 71.34 L300.30 71.01 M307.57 68.67 L307.57 75.70 M307.87 68.67 L307.87 75.70 M307.57 72.02 L306.97 71.34 L306.36 71.01 L305.75 71.01 L304.84 71.34 L304.24 72.02 L303.94 73.02 L303.94 73.69 L304.24 74.70 L304.84 75.37 L305.75 75.70 L306.36 75.70 L306.97 75.37 L307.57 74.70 M305.75 71.01 L305.15 71.34 L304.54 72.02 L304.24 73.02 L304.24 73.69 L304.54 74.70 L305.15 75.37 L305.75 75.70 M306.66 68.67 L307.87 68.67 M307.57 75.70 L308.78 75.70 M310.90 68.67 L310.60 69.00 L310.90 69.34 L311.21 69.00 L310.90 68.67 M310.90 71.01 L310.90 75.70 M311.21 71.01 L311.21 75.70 M310.00 71.01 L311.21 71.01 M310.00 75.70 L312.12 75.70 M315.15 71.01 L314.54 71.34 L314.24 71.68 L313.93 72.35 L313.93 73.02 L314.24 73.69 L314.54 74.03 L315.15 74.36 L315.75 74.36 L316.36 74.03 L316.66 73.69 L316.96 73.02 L316.96 72.35 L316.66 71.68 L316.36 71.34 L315.75 71.01 L315.15 71.01 M314.54 71.34 L314.24 72.02 L314.24 73.36 L314.54 74.03 M316.36 74.03 L316.66 73.36 L316.66 72.02 L316.36 71.34 M316.66 71.68 L316.96 71.34 L317.57 71.01 L317.57 71.34 L316.96 71.34 M314.24 73.69 L313.93 74.03 L313.63 74.70 L313.63 75.03 L313.93 75.70 L314.84 76.03 L316.36 76.03 L317.27 76.37 L317.57 76.70 M313.63 75.03 L313.93 75.37 L314.84 75.70 L316.36 75.70 L317.27 76.03 L317.57 76.70 L317.57 77.04 L317.27 77.71 L316.36 78.05 L314.54 78.05 L313.63 77.71 L313.33 77.04 L313.33 76.70 L313.63 76.03 L314.54 75.70 M319.99 68.67 L319.99 75.70 M320.30 68.67 L320.30 75.70 M320.30 72.02 L320.90 71.34 L321.81 71.01 L322.42 71.01 L323.33 71.34 L323.63 72.02 L323.63 75.70 M322.42 71.01 L323.02 71.34 L323.33 72.02 L323.33 75.70 M319.09 68.67 L320.30 68.67 M319.09 75.70 L321.21 75.70 M322.42 75.70 L324.54 75.70 M326.66 68.67 L326.36 69.00 L326.66 69.34 L326.96 69.00 L326.66 68.67 M326.66 71.01 L326.66 75.70 M326.96 71.01 L326.96 75.70 M325.75 71.01 L326.96 71.01 M325.75 75.70 L327.87 75.70 M329.69 73.02 L333.33 73.02 L333.33 72.35 L333.02 71.68 L332.72 71.34 L332.11 71.01 L331.20 71.01 L330.30 71.34 L329.69 72.02 L329.39 73.02 L329.39 73.69 L329.69 74.70 L330.30 75.37 L331.20 75.70 L331.81 75.70 L332.72 75.37 L333.33 74.70 M333.02 73.02 L333.02 72.02 L332.72 71.34 M331.20 71.01 L330.60 71.34 L329.99 72.02 L329.69 73.02 L329.69 73.69 L329.99 74.70 L330.60 75.37 L331.20 75.70 M335.75 71.01 L335.75 75.70 M336.05 71.01 L336.05 75.70 M336.05 73.02 L336.36 72.02 L336.96 71.34 L337.57 71.01 L338.48 71.01 L338.78 71.34 L338.78 71.68 L338.48 72.02 L338.17 71.68 L338.48 71.34 M334.84 71.01 L336.05 71.01 M334.84 75.70 L336.96 75.70 M342.11 71.01 L341.20 71.34 L340.60 72.02 L340.30 73.02 L340.30 73.69 L340.60 74.70 L341.20 75.37 L342.11 75.70 L342.72 75.70 L343.63 75.37 L344.23 74.70 L344.54 73.69 L344.54 73.02 L344.23 72.02 L343.63 71.34 L342.72 71.01 L342.11 71.01 M342.11 71.01 L341.51 71.34 L340.90 72.02 L340.60 73.02 L340.60 73.69 L340.90 74.70 L341.51 75.37 L342.11 75.70 M342.72 75.70 L343.32 75.37 L343.93 74.70 L344.23 73.69 L344.23 73.02 L343.93 72.02 L343.32 71.34 L342.72 71.01 M354.23 70.34 L354.23 75.03 M352.11 72.69 L356.35 72.69 M359.99 70.00 L360.60 69.67 L361.50 68.67 L361.50 75.70 M361.20 69.00 L361.20 75.70 M359.99 75.70 L362.72 75.70 M366.96 68.67 L366.05 69.00 L365.44 70.00 L365.14 71.68 L365.14 72.69 L365.44 74.36 L366.05 75.37 L366.96 75.70 L367.56 75.70 L368.47 75.37 L369.08 74.36 L369.38 72.69 L369.38 71.68 L369.08 70.00 L368.47 69.00 L367.56 68.67 L366.96 68.67 M366.96 68.67 L366.35 69.00 L366.05 69.34 L365.75 70.00 L365.44 71.68 L365.44 72.69 L365.75 74.36 L366.05 75.03 L366.35 75.37 L366.96 75.70 M367.56 75.70 L368.17 75.37 L368.47 75.03 L368.78 74.36 L369.08 72.69 L369.08 71.68 L368.78 70.00 L368.47 69.34 L368.17 69.00 L367.56 68.67" fill="none" stroke="#000" stroke-width="1.20" stroke-linecap="round" stroke-linejoin="round"/>
<rect x="289.1" y="89.8" width="9.7" height="9.4" fill="#000"/><rect x="293.4" y="94" width="1" height="1" fill="#fff"/>
<path d="M311.35 91.87 L311.65 92.88 L311.65 90.87 L311.35 91.87 L310.75 91.20 L309.84 90.87 L309.23 90.87 L308.32 91.20 L307.71 91.87 L307.41 92.54 L307.11 93.55 L307.11 95.22 L307.41 96.23 L307.71 96.90 L308.32 97.57 L309.23 97.90 L309.84 97.90 L310.75 97.57 L311.35 96.90 L311.65 96.23 M309.23 90.87 L308.62 91.20 L308.02 91.87 L307.71 92.54 L307.41 93.55 L307.41 95.22 L307.71 96.23 L308.02 96.90 L308.62 97.57 L309.23 97.90 M314.08 93.88 L314.08 94.22 L313.77 94.22 L313.77 93.88 L314.08 93.55 L314.68 93.21 L315.90 93.21 L316.50 93.55 L316.81 93.88 L317.11 94.55 L317.11 96.90 L317.41 97.57 L317.71 97.90 M316.81 93.88 L316.81 96.90 L317.11 97.57 L317.71 97.90 L318.02 97.90 M316.81 94.55 L316.50 94.89 L314.68 95.22 L313.77 95.56 L313.47 96.23 L313.47 96.90 L313.77 97.57 L314.68 97.90 L315.59 97.90 L316.20 97.57 L316.81 96.90 M314.68 95.22 L314.08 95.56 L313.77 96.23 L313.77 96.90 L314.08 97.57 L314.68 97.90 M320.14 93.21 L320.14 100.25 M320.44 93.21 L320.44 100.25 M320.44 94.22 L321.05 93.55 L321.65 93.21 L322.26 93.21 L323.17 93.55 L323.77 94.22 L324.08 95.22 L324.08 95.89 L323.77 96.90 L323.17 97.57 L322.26 97.90 L321.65 97.90 L321.05 97.57 L320.44 96.90 M322.26 93.21 L322.87 93.55 L323.47 94.22 L323.77 95.22 L323.77 95.89 L323.47 96.90 L322.87 97.57 L322.26 97.90 M319.23 93.21 L320.44 93.21 M319.23 100.25 L321.35 100.25 M326.50 93.21 L326.50 96.90 L326.80 97.57 L327.71 97.90 L328.32 97.90 L329.23 97.57 L329.83 96.90 M326.80 93.21 L326.80 96.90 L327.11 97.57 L327.71 97.90 M329.83 93.21 L329.83 97.90 M330.14 93.21 L330.14 97.90 M325.59 93.21 L326.80 93.21 M328.93 93.21 L330.14 93.21 M329.83 97.90 L331.05 97.90 M333.17 90.87 L333.17 96.56 L333.47 97.57 L334.08 97.90 L334.68 97.90 L335.29 97.57 L335.59 96.90 M333.47 90.87 L333.47 96.56 L333.77 97.57 L334.08 97.90 M332.26 93.21 L334.68 93.21 M337.71 90.87 L337.41 91.20 L337.71 91.54 L338.01 91.20 L337.71 90.87 M337.71 93.21 L337.71 97.90 M338.01 93.21 L338.01 97.90 M336.80 93.21 L338.01 93.21 M336.80 97.90 L338.92 97.90 M348.32 92.54 L348.32 97.23 M346.20 94.89 L350.44 94.89 M354.98 90.87 L354.07 91.20 L353.47 92.21 L353.16 93.88 L353.16 94.89 L353.47 96.56 L354.07 97.57 L354.98 97.90 L355.59 97.90 L356.50 97.57 L357.10 96.56 L357.41 94.89 L357.41 93.88 L357.10 92.21 L356.50 91.20 L355.59 90.87 L354.98 90.87 M354.98 90.87 L354.38 91.20 L354.07 91.54 L353.77 92.21 L353.47 93.88 L353.47 94.89 L353.77 96.56 L354.07 97.23 L354.38 97.57 L354.98 97.90 M355.59 97.90 L356.19 97.57 L356.50 97.23 L356.80 96.56 L357.10 94.89 L357.10 93.88 L356.80 92.21 L356.50 91.54 L356.19 91.20 L355.59 90.87 M359.22 90.87 L359.22 92.88 M359.22 92.21 L359.53 91.54 L360.13 90.87 L360.74 90.87 L362.25 91.87 L362.86 91.87 L363.16 91.54 L363.47 90.87 M359.53 91.54 L360.13 91.20 L360.74 91.20 L362.25 91.87 M363.47 90.87 L363.47 91.87 L363.16 92.88 L361.95 94.55 L361.65 95.22 L361.35 96.23 L361.35 97.90 M363.16 92.88 L361.65 94.55 L361.35 95.22 L361.04 96.23 L361.04 97.90" fill="none" stroke="#000" stroke-width="1.20" stroke-linecap="round" stroke-linejoin="round"/>
<path d="M85.70 210.58 L85.70 217.20 M86.02 210.58 L86.02 217.20 M84.74 210.58 L88.58 210.58 L89.54 210.90 L89.86 211.21 L90.18 211.84 L90.18 212.47 L89.86 213.10 L89.54 213.42 L88.58 213.73 M88.58 210.58 L89.22 210.90 L89.54 211.21 L89.86 211.84 L89.86 212.47 L89.54 213.10 L89.22 213.42 L88.58 213.73 M86.02 213.73 L88.58 213.73 L89.54 214.05 L89.86 214.36 L90.18 214.99 L90.18 215.94 L89.86 216.57 L89.54 216.88 L88.58 217.20 L84.74 217.20 M88.58 213.73 L89.22 214.05 L89.54 214.36 L89.86 214.99 L89.86 215.94 L89.54 216.57 L89.22 216.88 L88.58 217.20 M95.62 212.79 L92.10 217.20 M95.94 212.79 L92.42 217.20 M92.42 212.79 L92.10 214.05 L92.10 212.79 L95.94 212.79 M92.10 217.20 L95.94 217.20 L95.94 215.94 L95.62 217.20 M98.50 210.58 L98.50 217.20 M98.82 210.58 L98.82 217.20 M102.98 210.58 L98.82 214.68 M100.42 213.42 L102.98 217.20 M100.10 213.42 L102.66 217.20 M97.54 210.58 L99.78 210.58 M101.70 210.58 L103.62 210.58 M97.54 217.20 L99.78 217.20 M101.70 217.20 L103.62 217.20" fill="none" stroke="#c82a14" stroke-width="1.25" stroke-linecap="round" stroke-linejoin="round"/>
<path d="M85.88 226.06 L85.88 233.30 M86.23 226.06 L86.23 233.30 M84.81 226.06 L87.29 226.06 M84.81 233.30 L87.29 233.30 M89.78 226.06 L89.78 233.30 M90.13 226.06 L90.13 233.30 M88.71 226.06 L92.97 226.06 L94.04 226.40 L94.39 226.75 L94.75 227.44 L94.75 228.12 L94.39 228.81 L94.04 229.16 L92.97 229.51 L90.13 229.51 M92.97 226.06 L93.68 226.40 L94.04 226.75 L94.39 227.44 L94.39 228.12 L94.04 228.81 L93.68 229.16 L92.97 229.51 M88.71 233.30 L91.20 233.30 M91.91 229.51 L92.62 229.85 L92.97 230.20 L94.04 232.61 L94.39 232.96 L94.75 232.96 L95.10 232.61 M92.62 229.85 L92.97 230.54 L93.68 232.96 L94.04 233.30 L94.75 233.30 L95.10 232.61 L95.10 232.27 M99.36 226.06 L96.88 233.30 M99.36 226.06 L101.85 233.30 M99.36 227.09 L101.49 233.30 M97.59 231.23 L100.78 231.23 M96.17 233.30 L98.30 233.30 M100.43 233.30 L102.56 233.30 M108.95 227.09 L109.30 228.12 L109.30 226.06 L108.95 227.09 L108.24 226.40 L107.17 226.06 L106.46 226.06 L105.40 226.40 L104.69 227.09 L104.33 227.78 L103.98 228.81 L103.98 230.54 L104.33 231.58 L104.69 232.27 L105.40 232.96 L106.46 233.30 L107.17 233.30 L108.24 232.96 L108.95 232.27 L109.30 231.58 M106.46 226.06 L105.75 226.40 L105.04 227.09 L104.69 227.78 L104.33 228.81 L104.33 230.54 L104.69 231.58 L105.04 232.27 L105.75 232.96 L106.46 233.30 M117.82 226.06 L117.82 233.30 M118.18 226.06 L118.18 233.30 M116.76 226.06 L121.02 226.06 L122.08 226.40 L122.44 226.75 L122.79 227.44 L122.79 228.47 L122.44 229.16 L122.08 229.51 L121.02 229.85 L118.18 229.85 M121.02 226.06 L121.73 226.40 L122.08 226.75 L122.44 227.44 L122.44 228.47 L122.08 229.16 L121.73 229.51 L121.02 229.85 M116.76 233.30 L119.24 233.30 M125.28 230.54 L129.54 230.54 L129.54 229.85 L129.19 229.16 L128.83 228.81 L128.12 228.47 L127.05 228.47 L125.99 228.81 L125.28 229.51 L124.92 230.54 L124.92 231.23 L125.28 232.27 L125.99 232.96 L127.05 233.30 L127.76 233.30 L128.83 232.96 L129.54 232.27 M129.19 230.54 L129.19 229.51 L128.83 228.81 M127.05 228.47 L126.34 228.81 L125.63 229.51 L125.28 230.54 L125.28 231.23 L125.63 232.27 L126.34 232.96 L127.05 233.30 M132.38 229.16 L132.38 229.51 L132.02 229.51 L132.02 229.16 L132.38 228.81 L133.09 228.47 L134.51 228.47 L135.22 228.81 L135.57 229.16 L135.93 229.85 L135.93 232.27 L136.28 232.96 L136.64 233.30 M135.57 229.16 L135.57 232.27 L135.93 232.96 L136.64 233.30 L137.00 233.30 M135.57 229.85 L135.22 230.20 L133.09 230.54 L132.02 230.89 L131.67 231.58 L131.67 232.27 L132.02 232.96 L133.09 233.30 L134.15 233.30 L134.86 232.96 L135.57 232.27 M133.09 230.54 L132.38 230.89 L132.02 231.58 L132.02 232.27 L132.38 232.96 L133.09 233.30 M139.48 226.06 L139.48 233.30 M139.83 226.06 L139.83 233.30 M143.38 228.47 L139.83 231.92 M141.61 230.54 L143.74 233.30 M141.25 230.54 L143.38 233.30 M138.41 226.06 L139.83 226.06 M142.32 228.47 L144.45 228.47 M138.41 233.30 L140.90 233.30 M142.32 233.30 L144.45 233.30 M146.58 230.54 L150.84 230.54 L150.84 229.85 L150.48 229.16 L150.13 228.81 L149.42 228.47 L148.35 228.47 L147.29 228.81 L146.58 229.51 L146.22 230.54 L146.22 231.23 L146.58 232.27 L147.29 232.96 L148.35 233.30 L149.06 233.30 L150.13 232.96 L150.84 232.27 M150.48 230.54 L150.48 229.51 L150.13 228.81 M148.35 228.47 L147.64 228.81 L146.94 229.51 L146.58 230.54 L146.58 231.23 L146.94 232.27 L147.64 232.96 L148.35 233.30 M153.68 228.47 L153.68 233.30 M154.03 228.47 L154.03 233.30 M154.03 230.54 L154.39 229.51 L155.10 228.81 L155.81 228.47 L156.88 228.47 L157.23 228.81 L157.23 229.16 L156.88 229.51 L156.52 229.16 L156.88 228.81 M152.61 228.47 L154.03 228.47 M152.61 233.30 L155.10 233.30 M162.55 229.16 L162.91 228.47 L162.91 229.85 L162.55 229.16 L162.20 228.81 L161.49 228.47 L160.07 228.47 L159.36 228.81 L159.00 229.16 L159.00 229.85 L159.36 230.20 L160.07 230.54 L161.84 231.23 L162.55 231.58 L162.91 231.92 M159.00 229.51 L159.36 229.85 L160.07 230.20 L161.84 230.89 L162.55 231.23 L162.91 231.58 L162.91 232.61 L162.55 232.96 L161.84 233.30 L160.42 233.30 L159.71 232.96 L159.36 232.61 L159.00 231.92 L159.00 233.30 L159.36 232.61" fill="none" stroke="#ffb04a" stroke-width="1.25" stroke-linecap="round" stroke-linejoin="round"/>
<path d="M85.88 242.75 L85.88 250.00 M86.23 242.75 L86.23 250.00 M84.81 242.75 L89.07 242.75 L90.13 243.10 L90.49 243.44 L90.84 244.13 L90.84 244.82 L90.49 245.51 L90.13 245.86 L89.07 246.21 M89.07 242.75 L89.78 243.10 L90.13 243.44 L90.49 244.13 L90.49 244.82 L90.13 245.51 L89.78 245.86 L89.07 246.21 M86.23 246.21 L89.07 246.21 L90.13 246.55 L90.49 246.90 L90.84 247.59 L90.84 248.62 L90.49 249.31 L90.13 249.66 L89.07 250.00 L84.81 250.00 M89.07 246.21 L89.78 246.55 L90.13 246.90 L90.49 247.59 L90.49 248.62 L90.13 249.31 L89.78 249.66 L89.07 250.00 M93.68 242.75 L93.68 250.00 M94.04 242.75 L96.17 248.97 M93.68 242.75 L96.17 250.00 M98.66 242.75 L96.17 250.00 M98.66 242.75 L98.66 250.00 M99.01 242.75 L99.01 250.00 M92.62 242.75 L94.04 242.75 M98.66 242.75 L100.07 242.75 M92.62 250.00 L94.75 250.00 M97.59 250.00 L100.07 250.00 M107.88 241.38 L101.49 252.41 M110.37 242.75 L110.37 250.00 M110.72 242.75 L110.72 250.00 M109.30 242.75 L113.56 242.75 L114.63 243.10 L114.98 243.44 L115.34 244.13 L115.34 244.82 L114.98 245.51 L114.63 245.86 L113.56 246.21 M113.56 242.75 L114.27 243.10 L114.63 243.44 L114.98 244.13 L114.98 244.82 L114.63 245.51 L114.27 245.86 L113.56 246.21 M110.72 246.21 L113.56 246.21 L114.63 246.55 L114.98 246.90 L115.34 247.59 L115.34 248.62 L114.98 249.31 L114.63 249.66 L113.56 250.00 L109.30 250.00 M113.56 246.21 L114.27 246.55 L114.63 246.90 L114.98 247.59 L114.98 248.62 L114.63 249.31 L114.27 249.66 L113.56 250.00 M117.47 242.75 L122.08 250.00 M117.82 242.75 L122.44 250.00 M122.44 242.75 L117.47 250.00 M116.76 242.75 L118.89 242.75 M121.02 242.75 L123.15 242.75 M116.76 250.00 L118.89 250.00 M121.02 250.00 L123.15 250.00" fill="none" stroke="#0a7a0a" stroke-width="1.25" stroke-linecap="round" stroke-linejoin="round"/>
<path d="M87.65 259.56 L86.58 259.90 L85.88 260.59 L85.52 261.28 L85.16 262.66 L85.16 263.69 L85.52 265.07 L85.88 265.76 L86.58 266.45 L87.65 266.80 L88.36 266.80 L89.42 266.45 L90.13 265.76 L90.49 265.07 L90.84 263.69 L90.84 262.66 L90.49 261.28 L90.13 260.59 L89.42 259.90 L88.36 259.56 L87.65 259.56 M87.65 259.56 L86.94 259.90 L86.23 260.59 L85.88 261.28 L85.52 262.66 L85.52 263.69 L85.88 265.07 L86.23 265.76 L86.94 266.45 L87.65 266.80 M88.36 266.80 L89.07 266.45 L89.78 265.76 L90.13 265.07 L90.49 263.69 L90.49 262.66 L90.13 261.28 L89.78 260.59 L89.07 259.90 L88.36 259.56 M93.68 259.56 L93.68 266.80 M94.04 259.56 L94.04 266.80 M96.17 261.62 L96.17 264.38 M92.62 259.56 L98.30 259.56 L98.30 261.62 L97.94 259.56 M94.04 263.00 L96.17 263.00 M92.62 266.80 L95.10 266.80 M100.78 259.56 L100.78 266.80 M101.14 259.56 L101.14 266.80 M99.72 259.56 L102.20 259.56 M99.72 266.80 L102.20 266.80 M104.69 259.56 L104.69 266.80 M105.04 259.56 L105.04 266.80 M103.62 259.56 L107.88 259.56 L108.95 259.90 L109.30 260.25 L109.66 260.94 L109.66 261.62 L109.30 262.31 L108.95 262.66 L107.88 263.00 L105.04 263.00 M107.88 259.56 L108.59 259.90 L108.95 260.25 L109.30 260.94 L109.30 261.62 L108.95 262.31 L108.59 262.66 L107.88 263.00 M103.62 266.80 L106.11 266.80 M106.82 263.00 L107.53 263.35 L107.88 263.69 L108.95 266.11 L109.30 266.45 L109.66 266.45 L110.01 266.11 M107.53 263.35 L107.88 264.04 L108.59 266.45 L108.95 266.80 L109.66 266.80 L110.01 266.11 L110.01 265.76" fill="none" stroke="#2233ff" stroke-width="1.25" stroke-linecap="round" stroke-linejoin="round"/>
</svg>
</body></html>
